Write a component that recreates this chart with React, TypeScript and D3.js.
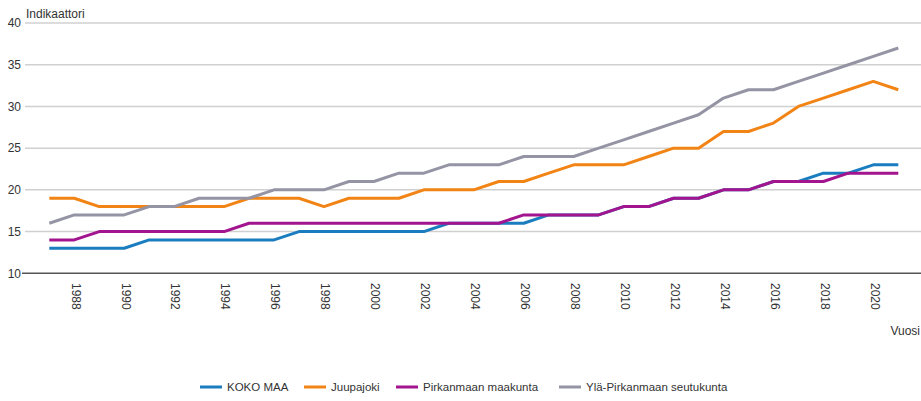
import * as d3 from 'd3';
import { useEffect, useRef } from 'react';

const years = d3.range(1987, 2022);
const tickYears = d3.range(1988, 2021, 2);
const yTicks = [10, 15, 20, 25, 30, 35, 40];

const kokoMaa = [13, 13, 13, 13, 14, 14, 14, 14, 14, 14, 15, 15, 15, 15, 15, 15, 16, 16, 16, 16, 17, 17, 17, 18, 18, 19, 19, 20, 20, 21, 21, 22, 22, 23, 23];
const juupajoki = [19, 19, 18, 18, 18, 18, 18, 18, 19, 19, 19, 18, 19, 19, 19, 20, 20, 20, 21, 21, 22, 23, 23, 23, 24, 25, 25, 27, 27, 28, 30, 31, 32, 33, 32];
const pirkanmaa = [14, 14, 15, 15, 15, 15, 15, 15, 16, 16, 16, 16, 16, 16, 16, 16, 16, 16, 16, 17, 17, 17, 17, 18, 18, 19, 19, 20, 20, 21, 21, 21, 22, 22, 22];
const ylaPirkanmaa = [16, 17, 17, 17, 18, 18, 19, 19, 19, 20, 20, 20, 21, 21, 22, 22, 23, 23, 23, 24, 24, 24, 25, 26, 27, 28, 29, 31, 32, 32, 33, 34, 35, 36, 37];

const seriesNames = ['KOKO MAA', 'Juupajoki', 'Pirkanmaan maakunta', 'Ylä-Pirkanmaan seutukunta'];
const seriesValues = [kokoMaa, juupajoki, pirkanmaa, ylaPirkanmaa];
const colors = ['#1a7dbf', '#f28416', '#a3148f', '#9494a4'];
const legendX = [200, 304, 396, 559];

export default function App() {
    const ref = useRef(null);

    const width = 921,
        height = 401;

    useEffect(() => {
        const svg = d3.select(ref.current);
        svg.selectAll('*').remove();

        const font = 'Arial, "Liberation Sans", sans-serif';

        const x = d3.scaleLinear().domain([1987, 2021]).range([49.3, 898.3]);
        const y = d3.scaleLinear().domain([10, 40]).range([273.3, 23]);

        // gridlines
        svg.append('g')
            .selectAll('line')
            .data(yTicks.filter((d) => d > 10))
            .join('line')
            .attr('x1', 25)
            .attr('x2', width)
            .attr('y1', (d) => y(d))
            .attr('y2', (d) => y(d))
            .attr('stroke', '#d0d0d0')
            .attr('stroke-width', 1.5);

        // y labels
        svg.append('g')
            .selectAll('text')
            .data(yTicks)
            .join('text')
            .attr('x', 21)
            .attr('y', (d) => y(d))
            .attr('dy', '0.36em')
            .attr('text-anchor', 'end')
            .attr('font-family', font)
            .attr('font-size', 12)
            .attr('fill', '#333')
            .text((d) => d);

        // x axis line
        svg.append('line')
            .attr('x1', 22)
            .attr('x2', width)
            .attr('y1', y(10))
            .attr('y2', y(10))
            .attr('stroke', '#555')
            .attr('stroke-width', 1.5);

        // x labels
        svg.append('g')
            .selectAll('text')
            .data(tickYears)
            .join('text')
            .attr('transform', (d) => `translate(${x(d) + 1.5},283) rotate(90)`)
            .attr('dy', '0.35em')
            .attr('text-anchor', 'start')
            .attr('font-family', font)
            .attr('font-size', 12)
            .attr('fill', '#333')
            .text((d) => d);

        svg.append('text')
            .attr('x', 26)
            .attr('y', 18)
            .attr('font-family', font)
            .attr('font-size', 12)
            .attr('fill', '#333')
            .text('Indikaattori');

        svg.append('text')
            .attr('x', 920)
            .attr('y', 335)
            .attr('text-anchor', 'end')
            .attr('font-family', font)
            .attr('font-size', 12)
            .attr('fill', '#333')
            .text('Vuosi');

        const line = d3
            .line<number>()
            .x((_, i) => x(years[i]))
            .y((d) => y(d));

        seriesValues.forEach((vals, i) => {
            svg.append('path')
                .datum(vals)
                .attr('d', line)
                .attr('fill', 'none')
                .attr('stroke', colors[i])
                .attr('stroke-width', 3)
                .attr('stroke-linejoin', 'round');
        });

        // legend
        const legend = svg
            .append('g')
            .selectAll('g')
            .data(seriesNames)
            .join('g')
            .attr('transform', (_, i) => `translate(${legendX[i]},387)`);
        legend
            .append('line')
            .attr('x1', 0)
            .attr('x2', 22)
            .attr('stroke', (_, i) => colors[i])
            .attr('stroke-width', 3);
        legend
            .append('text')
            .attr('x', 27)
            .attr('dy', '0.35em')
            .attr('font-family', font)
            .attr('font-size', 11.5)
            .attr('fill', '#333')
            .text((d) => d);
    }, [width]);

    return (
        <svg
            ref={ref}
            width={width}
            height={height}
            style={{ position: 'absolute', left: 0, top: 0, background: '#fff' }}
        />
    );
}
